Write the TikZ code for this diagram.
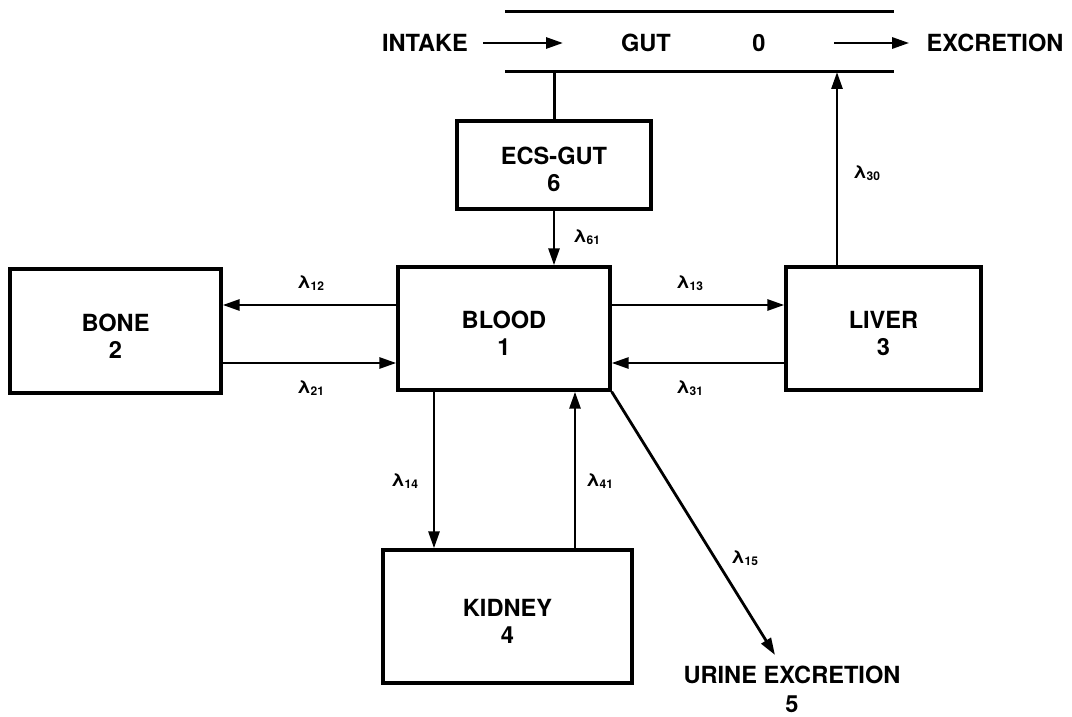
\documentclass[tikz,border=0pt]{standalone}
\usepackage{fontspec}
\setmainfont{TeX Gyre Heros}
\usepackage{tikz}
\usetikzlibrary{arrows.meta}
\tikzset{
    box/.style={draw, line width=1.7pt, align=center, inner sep=0pt, font=\bfseries\fontsize{11.8}{13.5}\selectfont},
    lbl/.style={align=center, inner sep=0pt, font=\bfseries\fontsize{11.8}{14.5}\selectfont},
    rate/.style={inner sep=0pt, font=\bfseries\fontsize{9}{10}\selectfont},
    flow/.style={line width=1.4pt, -{Triangle[length=8.5pt,width=5.5pt]}},
    wall/.style={line width=1.5pt}
}
\newcommand{\comp}[6]{\node[box, minimum width=#4pt, minimum height=#5pt] (#1) at (#2,#3) {\rule{0pt}{13.5pt}#6};}

\begin{document}
\begin{tikzpicture}[x=0.5pt, y=-0.5pt]
        \useasboundingbox (0,0) rectangle (1072,717);
        % gut
        \coordinate (gutNW) at (505,12);
        \coordinate (gutSE) at (894,72);
        \draw[wall] (gutNW) -- (gutNW -| gutSE);
        \draw[wall] (gutNW |- gutSE) -- (gutSE);
        \node[lbl] (gut) at (646,43) {GUT};
        \node[lbl] (gutnum) at (759,43) {0};
        \node[lbl] (intake) at (425,43) {INTAKE};
        \node[lbl] (excr) at (995,43) {EXCRETION};
        \coordinate (inTip) at (563,43);
        \coordinate (outTail) at (834,43);
        \draw[flow] ([xshift=7.5pt]intake.east) -- (inTip);
        \draw[flow] (outTail) -- ([xshift=-8.5pt]excr.west);
        % compartments
        \comp{ecs}{554}{165}{97}{44}{ECS-GUT\\6}
        \comp{bone}{115.5}{331}{105.5}{62}{BONE\\2}
        \comp{blood}{504}{328.5}{106}{61.5}{BLOOD\\1}
        \comp{liver}{883.5}{328.5}{97.5}{61.5}{LIVER\\3}
        \comp{kidney}{507.5}{616.5}{124.5}{66.5}{KIDNEY\\4}
        \node[lbl] (urine) at (792,689) {URINE EXCRETION\\5};
        % gut <-> ecs
        \draw[wall] (ecs.north) -- (ecs.north |- gutSE);
        \draw[flow] (ecs.south) -- (ecs.south |- blood.north);
        \node[rate] (r61) at (587,237) {λ\textsubscript{61}};
        % blood <-> bone, liver
        \coordinate (hi) at (0,305);
        \coordinate (lo) at (0,363);
        \draw[flow] (blood.west |- hi) -- (bone.east |- hi);
        \draw[flow] (bone.east |- lo) -- (blood.west |- lo);
        \draw[flow] (blood.east |- hi) -- (liver.west |- hi);
        \draw[flow] (liver.west |- lo) -- (blood.east |- lo);
        \node[rate] (r12) at (311,283) {λ\textsubscript{12}};
        \node[rate] (r21) at (311,388) {λ\textsubscript{21}};
        \node[rate] (r13) at (690,283) {λ\textsubscript{13}};
        \node[rate] (r31) at (690,388) {λ\textsubscript{31}};
        % liver -> gut
        \coordinate (bile) at (837,0);
        \draw[flow] (bile |- liver.north) -- (bile |- gutSE);
        \node[rate] (r30) at (867,173) {λ\textsubscript{30}};
        % blood <-> kidney
        \coordinate (down) at (434,0);
        \coordinate (back) at (575,0);
        \draw[flow] (down |- blood.south) -- (down |- kidney.north);
        \draw[flow] (back |- kidney.north) -- (back |- blood.south);
        \node[rate] (r14) at (405,481) {λ\textsubscript{14}};
        \node[rate] (r41) at (600,481) {λ\textsubscript{41}};
        % blood -> urine
        \coordinate (urineTip) at (775,655);
        \draw[flow] (blood.south east) -- (urineTip);
        \node[rate] (r15) at (745,558) {λ\textsubscript{15}};
    \end{tikzpicture}
\end{document}
